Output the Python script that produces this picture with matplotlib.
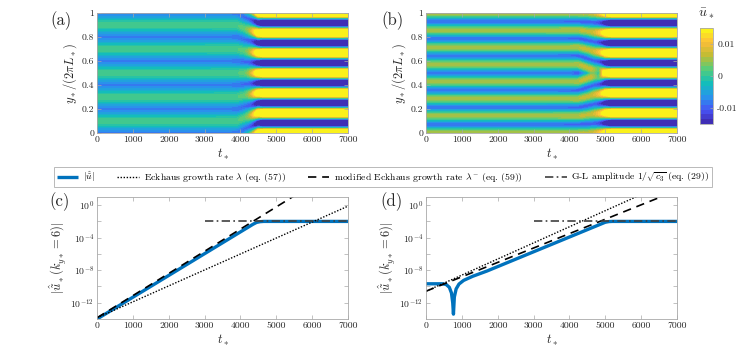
import numpy as np
import matplotlib
matplotlib.use("Agg")
import matplotlib.pyplot as plt
from matplotlib.colors import LinearSegmentedColormap

plt.rcParams['font.family'] = ['cmr10', 'DejaVu Serif']
plt.rcParams['mathtext.fontset'] = 'cm'
plt.rcParams['axes.unicode_minus'] = False
plt.rcParams['axes.formatter.use_mathtext'] = True

# ---- axis ticks / labels ----
t_ticks = [0, 1000, 2000, 3000, 4000, 5000, 6000, 7000]
y_ticks = [0, 0.2, 0.4, 0.6, 0.8, 1.0]
y_tick_labels = ['0', '0.2', '0.4', '0.6', '0.8', '1']
log_tick_exps = [0, -2, -4, -6, -8, -10, -12]
cbar_ticks = [-0.01, 0, 0.01]
cbar_tick_labels = ['-0.01', '0', '0.01']

# ---- panel (c): log10 of amplitudes ----
c_blue_t = [0, 4350, 4450, 4550, 4650, 7000]
c_blue_log = [-14.0, -2.35, -2.12, -2.03, -2.0, -2.0]
c_dotted_t = [0, 7000]
c_dotted_log = [-13.85, -0.12]
c_dashed_t = [0, 5600]
c_dashed_log = [-13.85, 1.42]
c_gl_t = [3000, 7000]
c_gl_log = [-1.9, -1.9]

# ---- panel (d) ----
d_blue_t = [0, 450, 560, 650, 710, 745, 765, 790, 840, 920, 1050, 1300, 1700,
            5000, 5100, 5200, 7000]
d_blue_log = [-9.67, -9.67, -9.75, -10.1, -10.8, -12.0, -13.4, -11.3, -10.3,
              -9.7, -9.25, -8.75, -8.1, -2.1, -2.02, -2.0, -2.0]
d_dotted_t = [0, 6000]
d_dotted_log = [-10.58, 1.3]
d_dashed_t = [0, 7000]
d_dashed_log = [-10.58, 1.81]
d_gl_t = [3000, 7000]
d_gl_log = [-1.9, -1.9]

# ---- panel (a)/(b) mean-flow field ----
# stripes go from k=5 (a) / k=7 (b) to k=6; amplitude of the k=6 state follows |u-hat|
heat_gain = 2.5
a_pre_t = [0, 4000, 4500, 7000]
a_pre_amp = [0.0042, 0.0042, 0.0, 0.0]
a_off_t = [0, 4100, 4500, 7000]
a_off_val = [-0.0036, -0.0036, 0.0, 0.0]
a_shift_t = [0, 3900, 4300, 4500, 7000]
a_shift = [0.0, 0.0, 0.7, 1.0, 1.0]

b_pre_t = [0, 4400, 5000, 7000]
b_pre_amp = [0.007, 0.007, 0.0, 0.0]
b_off_t = [0, 4500, 5000, 7000]
b_off_val = [-0.002, -0.002, 0.0, 0.0]
b_shift_t = [0, 4250, 4700, 5000, 7000]
b_shift = [0.0, 0.0, 0.75, 1.0, 1.0]
b_slip_t = [0, 4600, 4800, 4950, 7000]
b_slip = [0.0, 0.0, 1.0, 0.0, 0.0]

u_levels = np.linspace(-0.015, 0.015, 21)

# old-style parula
parula_pos = [0, 9/63, 18/63, 27/63, 36/63, 45/63, 54/63, 1]
parula_rgb = [(0.2422, 0.1504, 0.6603), (0.2810, 0.3228, 0.9579),
              (0.1540, 0.5902, 0.9218), (0.0704, 0.7457, 0.7258),
              (0.3406, 0.8008, 0.4789), (0.7525, 0.7381, 0.2018),
              (0.9946, 0.7425, 0.2237), (0.9769, 0.9839, 0.0805)]
parula = LinearSegmentedColormap.from_list('parula', list(zip(parula_pos, parula_rgb)))

BLUE = '#0072BD'
SPINE = '#a8a8a8'
TXT = '#262626'

t_grid = np.linspace(0, 7000, 351)
y_grid = np.linspace(0, 1, 301)
T, Y = np.meshgrid(t_grid, y_grid)
S = np.abs(Y - 0.5)

# (a): k=5 -> k=6
amp_a = np.interp(T, a_pre_t, a_pre_amp) + heat_gain * 10 ** np.interp(T, c_blue_t, c_blue_log)
fa = np.interp(T, a_shift_t, a_shift)
ua = np.interp(T, a_off_t, a_off_val) + amp_a * np.cos((10 + 2 * fa) * np.pi * S)
ua = np.clip(ua, -0.01499, 0.01499)

# (b): k=7 -> k=6 with a phase slip at mid-height
amp_b = np.interp(T, b_pre_t, b_pre_amp) + heat_gain * 10 ** np.interp(T, d_blue_t, d_blue_log)
amp_b = amp_b * (1 - np.interp(T, b_slip_t, b_slip) * np.exp(-(S / 0.05) ** 2))
fb = np.interp(T, b_shift_t, b_shift)
ub = np.interp(T, b_off_t, b_off_val) - amp_b * np.cos((14 - 2 * fb) * np.pi * S + np.pi * fb)
ub = np.clip(ub, -0.01499, 0.01499)


def style(ax):
    for s in ax.spines.values():
        s.set_color(SPINE)
        s.set_linewidth(0.6)
    ax.tick_params(direction='in', top=True, right=True, length=3, width=0.5,
                   color=SPINE, labelcolor=TXT, labelsize=7, pad=2)
    ax.set_xlim(0, 7000)
    ax.set_xticks(t_ticks)
    ax.set_xticklabels([str(v) for v in t_ticks])
    ax.set_xlabel(r'$t_*$', fontsize=9, color=TXT, labelpad=2)


fig = plt.figure(figsize=(7.47, 3.59), dpi=100)

ax_a = fig.add_axes([0.1299, 0.6295, 0.336, 0.3343])
ax_b = fig.add_axes([0.5703, 0.6295, 0.336, 0.3343])
cs = None
for ax, u, lab, lx in [(ax_a, ua, '(a)', 0.067), (ax_b, ub, '(b)', 0.511)]:
    cs = ax.contourf(t_grid, y_grid, u, levels=u_levels, cmap=parula)
    style(ax)
    ax.set_ylim(0, 1)
    ax.set_yticks(y_ticks)
    ax.set_yticklabels(y_tick_labels)
    ax.set_ylabel(r'$y_*/(2\pi L_*)$', fontsize=9, color=TXT, labelpad=2)
    fig.text(lx, 0.93, lab, fontsize=12, color=TXT)

cax = fig.add_axes([0.9371, 0.6546, 0.0174, 0.2674])
cb = fig.colorbar(cs, cax=cax, ticks=cbar_ticks)
cb.ax.set_yticklabels(cbar_tick_labels)
cb.outline.set_edgecolor(SPINE)
cb.outline.set_linewidth(0.6)
cb.ax.tick_params(direction='in', length=2, width=0.5, color=SPINE,
                  labelcolor=TXT, labelsize=7, pad=3)
fig.text(0.9458, 0.955, r'$\bar{u}_*$', fontsize=10, color=TXT, ha='center')

ax_c = fig.add_axes([0.1299, 0.1114, 0.336, 0.3398])
ax_d = fig.add_axes([0.5703, 0.1114, 0.336, 0.3398])
panels = [
    (ax_c, '(c)', 0.066, c_blue_t, c_blue_log, c_dotted_t, c_dotted_log,
     c_dashed_t, c_dashed_log, c_gl_t, c_gl_log),
    (ax_d, '(d)', 0.509, d_blue_t, d_blue_log, d_dotted_t, d_dotted_log,
     d_dashed_t, d_dashed_log, d_gl_t, d_gl_log),
]
handles = None
for (ax, lab, lx, bt, bl, ot, ol, dt, dl, gt, gl) in panels:
    h1, = ax.plot(bt, 10 ** np.array(bl), color=BLUE, lw=2.4, solid_capstyle='butt',
                  label=r'$|\hat{\tilde{u}}|$')
    h2, = ax.plot(ot, 10 ** np.array(ol), color='k', lw=1.0, ls=(0, (1, 1.2)),
                  label=r'Eckhaus growth rate $\lambda$ (eq. (57))')
    h3, = ax.plot(dt, 10 ** np.array(dl), color='k', lw=1.2, ls=(0, (5, 3.5)),
                  label=r'modified Eckhaus growth rate $\lambda^{-}$ (eq. (59))')
    h4, = ax.plot(gt, 10 ** np.array(gl), color='#404040', lw=1.2, ls=(0, (5, 2, 1, 2)),
                  label=r'G-L amplitude $1/\sqrt{c_3}$ (eq. (29))')
    handles = [h1, h2, h3, h4]
    ax.set_yscale('log')
    style(ax)
    ax.set_ylim(1e-14, 1e1)
    ax.set_yticks([10.0 ** e for e in log_tick_exps])
    ax.set_yticklabels([r'$10^{%d}$' % e if e % 4 == 0 else '' for e in log_tick_exps])
    ax.minorticks_off()
    ax.set_ylabel(r'$|\hat{\tilde{u}}_*(k_{y*}=6)|$', fontsize=9, color=TXT, labelpad=2)
    fig.text(lx, 0.425, lab, fontsize=12, color=TXT)

leg = fig.legend(handles=handles, loc='center', bbox_to_anchor=(0.513, 0.507),
                 ncol=4, fontsize=7, frameon=True, fancybox=False, handlelength=2.2,
                 columnspacing=2.3, borderpad=0.3, handletextpad=0.5)
leg.get_frame().set_edgecolor(SPINE)
leg.get_frame().set_linewidth(0.7)

fig.savefig('out.png', dpi=100)
